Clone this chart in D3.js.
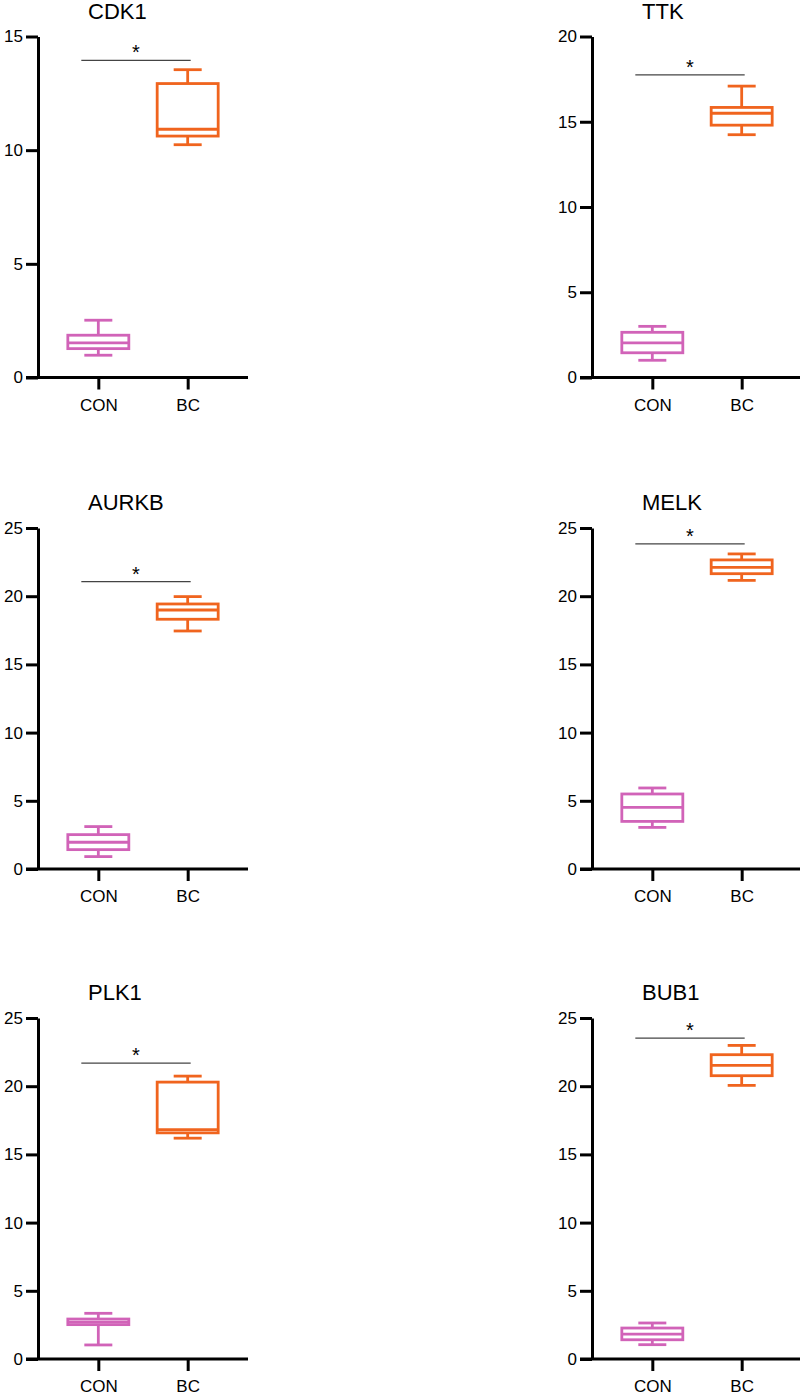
<!DOCTYPE html>
<html><head><meta charset="utf-8">
<script src="https://cdn.jsdelivr.net/npm/d3@7/dist/d3.min.js"></script>
<style>body{margin:0;background:#fff;}svg{display:block;font-family:"Liberation Sans",Arial,sans-serif;}</style>
</head><body>
<svg id="chart" width="800" height="1395"></svg>
<script>
const genes = ["CDK1","TTK","AURKB","MELK","PLK1","BUB1"];
const groups = ["CON","BC"];
const yMax = [15,20,25,25,25,25];
// [min, q1, median, q3, max]
const conStats = [
  [0.98,1.27,1.52,1.86,2.52],
  [1.01,1.45,2.03,2.65,3.00],
  [0.91,1.42,1.96,2.52,3.11],
  [3.05,3.49,4.52,5.50,5.94],
  [1.03,2.52,2.70,2.93,3.35],
  [1.05,1.41,1.83,2.27,2.64]
];
const bcStats = [
  [10.24,10.62,10.92,12.93,13.54],
  [14.24,14.80,15.50,15.84,17.09],
  [17.45,18.31,18.99,19.43,19.97],
  [21.16,21.65,22.12,22.66,23.10],
  [16.19,16.58,16.82,20.30,20.74],
  [20.06,20.77,21.53,22.31,22.99]
];
const sigY = [13.95,17.75,21.07,23.83,21.69,23.53];
const sigLabel = ["*","*","*","*","*","*"];

const colors = {CON:"#d163b8", BC:"#f0641e"};
const svg = d3.select("#chart");
const colX = [38, 592];
const rowTop = [36.5, 528, 1018];
const plotH = 341, plotW = 210;
const boxW = 61, capW = 28;

genes.forEach((g,i)=>{
  const ox = colX[i%2], oy = rowTop[Math.floor(i/2)];
  const gp = svg.append("g").attr("transform",`translate(${ox},${oy})`);
  const y = d3.scaleLinear().domain([0,yMax[i]]).range([plotH,0]);
  const x = d3.scalePoint().domain(groups).range([0,plotW]).padding(0.675);

  const ya = gp.append("g").call(d3.axisLeft(y).tickValues(d3.range(0,yMax[i]+0.1,5)).tickSize(12).tickSizeOuter(0).tickPadding(3));
  const xa = gp.append("g").attr("transform",`translate(0,${plotH})`).call(d3.axisBottom(x).tickSize(12).tickSizeOuter(0).tickPadding(9));
  [ya,xa].forEach(a=>{
    a.selectAll("path,line").attr("stroke","#000").attr("stroke-width",3);
    a.selectAll("text").attr("fill","#000").style("font-size","17px");
  });
  xa.selectAll("text").style("font-size","17px");
  xa.select("path").attr("d",`M-12,0H${plotW}`);

  gp.append("text").attr("x",50).attr("y",-18).text(g)
    .style("font-size","22px").attr("fill","#000");

  const stats = {CON:conStats[i], BC:bcStats[i]};
  groups.forEach(k=>{
    const s = stats[k], cx = x(k), c = colors[k];
    const b = gp.append("g").attr("stroke",c).attr("stroke-width",2.8).attr("fill","none");
    b.append("line").attr("x1",cx).attr("x2",cx).attr("y1",y(s[4])).attr("y2",y(s[3]));
    b.append("line").attr("x1",cx).attr("x2",cx).attr("y1",y(s[1])).attr("y2",y(s[0]));
    b.append("line").attr("x1",cx-capW/2).attr("x2",cx+capW/2).attr("y1",y(s[4])).attr("y2",y(s[4]));
    b.append("line").attr("x1",cx-capW/2).attr("x2",cx+capW/2).attr("y1",y(s[0])).attr("y2",y(s[0]));
    b.append("rect").attr("x",cx-boxW/2).attr("width",boxW).attr("y",y(s[3])).attr("height",y(s[1])-y(s[3]));
    b.append("line").attr("x1",cx-boxW/2).attr("x2",cx+boxW/2).attr("y1",y(s[2])).attr("y2",y(s[2]));
  });

  const sx1 = x("CON")-17, sx2 = x("BC")+3;
  gp.append("line").attr("x1",sx1).attr("x2",sx2).attr("y1",y(sigY[i])).attr("y2",y(sigY[i]))
    .attr("stroke","#444").attr("stroke-width",1.3);
  gp.append("text").attr("x",(sx1+sx2)/2).attr("y",y(sigY[i])-1).attr("text-anchor","middle")
    .text(sigLabel[i]).style("font-size","20px").attr("fill","#000");
});
</script>
</body></html>
